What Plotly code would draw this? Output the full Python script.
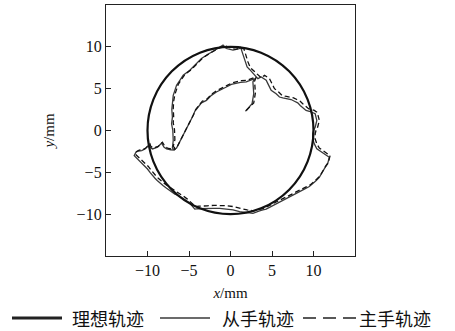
import plotly.graph_objects as go

# Ideal trajectory: circle centred at the origin
ideal_center = (0.0, 0.0)
ideal_radius = 10.0

# Slave-hand trajectory (mm)
slave_x = [1.8, 2.0, 2.4, 2.6, 2.8, 2.7, 2.9,
           2.3, 1.9, 1.2, 0.7, 0.1, -0.5, -1.1, -1.7, -2.3, -2.9, -3.5, -3.9, -4.3, -4.5, -4.8,
           -5.1, -5.4, -5.7, -5.9, -6.1, -6.3, -6.5, -6.8, -7.0,
           -6.9, -6.95, -7.1, -7.0, -7.07, -7.0, -6.9, -6.7, -6.5, -6.1, -5.7, -4.9, -4.1, -3.5, -2.9, -2.2, -1.5,
           -0.9, -0.5, -0.1, 0.3, 0.7, 1.1, 1.2, 1.3, 1.4, 1.5, 1.7, 2.0, 2.3, 2.6, 2.9,
           3.3, 3.7, 4.1, 4.3, 4.5, 4.7, 4.9, 5.5, 5.9, 6.3, 6.8, 7.3, 7.7, 8.1, 8.4, 8.7, 9.1, 9.5, 9.8,
           10.1, 10.2, 10.4, 10.2, 10.0, 9.9, 9.9, 10.1, 10.4, 10.7, 11.1, 11.5, 11.9,
           11.8, 11.7, 11.4, 11.1, 10.7, 10.3, 9.9, 9.5, 8.9, 8.3, 7.7, 7.1, 6.5, 5.9, 5.3, 4.7, 4.3, 3.9, 3.5,
           2.7, 1.9, 1.1, 0.3, -0.5, -1.3, -2.1, -2.9, -3.5, -3.9, -4.3, -4.6, -4.9, -5.3, -5.7, -6.2, -6.7,
           -7.2, -7.7, -8.1, -8.5, -8.8, -9.1, -9.4, -9.7, -10.0, -10.3, -10.6, -10.9, -11.1, -11.3, -11.6,
           -11.4, -11.1, -10.7, -10.3, -10.0, -9.8, -9.7, -9.4, -9.1, -8.8, -8.5, -8.3, -8.0, -7.7, -7.2, -6.7]
slave_y = [2.3, 2.5, 2.9, 3.2, 4.4, 5.8, 6.2,
           6.0, 5.8, 5.75, 5.6, 5.5, 5.2, 4.9, 4.6, 4.2, 3.6, 3.3, 2.8, 2.3, 1.8, 1.2,
           0.6, 0.2, -0.4, -0.8, -1.2, -1.8, -2.1, -2.3, -2.1,
           -1.2, 0.0, 0.8, 1.6, 2.5, 3.4, 4.2, 4.8, 5.4, 6.0, 6.6, 7.2, 8.0, 8.6, 9.0, 9.4, 9.8, 10.2,
           9.8, 9.7, 9.6, 9.7, 9.8, 10.0, 9.7, 9.4, 8.9, 8.4, 7.6, 7.3, 7.0, 6.6, 6.2,
           6.4, 6.1, 6.0, 5.6, 5.2, 4.8, 4.4, 4.0, 3.9, 3.8, 3.7, 3.5, 3.3, 3.0, 2.7, 2.4, 2.3, 2.2, 2.1,
           2.0, 1.2, 0.4, 0.0, -0.4, -1.0, -1.6, -2.2, -2.4, -2.6, -2.9, -3.2, -3.6,
           -4.0, -4.4, -5.0, -5.6, -6.0, -6.4, -6.7, -7.0, -7.3, -7.6, -7.9, -8.2, -8.5, -8.8, -9.1, -9.4, -9.5, -9.6, -9.9,
           -9.8, -9.7, -9.5, -9.4, -9.3, -9.3, -9.3, -9.3, -9.35, -9.4, -9.0, -8.7, -8.4, -8.1, -7.8, -7.6, -7.3,
           -6.9, -6.6, -6.3, -6.0, -5.7, -5.4, -5.0, -4.6, -4.3, -4.0, -3.8, -3.6, -3.3, -3.0, -2.6,
           -2.45, -2.4, -2.2, -1.9, -1.7, -2.0, -2.2, -2.1, -2.0, -1.7, -1.5, -2.0, -2.2, -2.3, -2.35, -2.4]

# Master-hand trajectory (mm)
master_x = [1.9, 2.1, 2.5, 2.8, 3.0, 2.9, 3.1,
            2.4, 2.0, 1.3, 0.8, 0.2, -0.4, -1.0, -1.6, -2.2, -2.8, -3.4, -3.8, -4.2, -4.4, -4.7,
            -5.0, -5.3, -5.6, -5.8, -6.0, -6.2, -6.4, -6.7, -6.9,
            -6.7, -6.75, -6.9, -6.85, -6.9, -6.85, -6.7, -6.5, -6.3, -5.9, -5.5, -4.7, -3.9, -3.3, -2.7, -2.0, -1.3,
            -0.6, -0.2, 0.2, 0.6, 1.0, 1.5, 1.6, 1.7, 1.8, 1.9, 2.1, 2.4, 2.7, 3.0, 3.3,
            3.7, 4.1, 4.5, 4.7, 4.9, 5.1, 5.3, 5.8, 6.2, 6.6, 7.1, 7.6, 8.0, 8.4, 8.7, 9.0, 9.4, 9.8, 10.1,
            10.4, 10.5, 10.7, 10.5, 10.3, 10.2, 10.2, 10.4, 10.7, 11.0, 11.4, 11.7, 12.0,
            11.9, 11.8, 11.5, 11.2, 10.8, 10.4, 10.0, 9.6, 9.0, 8.4, 7.8, 7.2, 6.6, 6.0, 5.4, 4.8, 4.4, 4.0, 3.6,
            2.8, 2.0, 1.2, 0.4, -0.4, -1.2, -2.0, -2.8, -3.4, -3.8, -4.2, -4.5, -4.8, -5.2, -5.6, -6.1, -6.6,
            -7.1, -7.6, -8.0, -8.4, -8.7, -9.0, -9.3, -9.6, -9.9, -10.2, -10.5, -10.8, -11.0, -11.2, -11.5,
            -11.3, -11.0, -10.6, -10.2, -9.9, -9.7, -9.6, -9.3, -9.0, -8.7, -8.4, -8.2, -7.9, -7.6, -7.1, -6.6]
master_y = [2.4, 2.6, 3.0, 3.3, 4.5, 5.9, 6.4,
            6.2, 6.0, 5.95, 5.8, 5.7, 5.4, 5.1, 4.8, 4.4, 3.8, 3.5, 3.0, 2.5, 2.0, 1.4,
            0.8, 0.4, -0.2, -0.6, -1.0, -1.6, -1.9, -2.1, -1.9,
            -1.1, 0.1, 0.9, 1.7, 2.6, 3.5, 4.3, 4.9, 5.5, 6.1, 6.7, 7.3, 8.1, 8.7, 9.1, 9.5, 9.9, 10.1,
            9.9, 9.8, 9.7, 9.8, 9.8, 9.8, 9.5, 9.2, 8.7, 8.2, 7.5, 7.2, 6.9, 6.6, 6.3,
            6.6, 6.3, 6.2, 5.8, 5.4, 5.0, 4.6, 4.2, 4.1, 4.0, 3.9, 3.7, 3.5, 3.2, 2.9, 2.6, 2.5, 2.4, 2.2,
            2.0, 1.2, 0.4, 0.0, -0.4, -1.0, -1.6, -2.1, -2.3, -2.5, -2.7, -3.0, -3.4,
            -3.8, -4.2, -4.8, -5.4, -5.8, -6.2, -6.5, -6.8, -7.1, -7.4, -7.7, -8.0, -8.3, -8.6, -8.9, -9.2, -9.3, -9.4, -9.6,
            -9.5, -9.3, -9.1, -9.0, -8.95, -8.95, -9.0, -9.0, -9.05, -9.1, -8.8, -8.5, -8.2, -7.9, -7.6, -7.3, -7.0,
            -6.6, -6.3, -6.0, -5.7, -5.4, -5.1, -4.7, -4.3, -4.0, -3.7, -3.5, -3.3, -3.0, -2.8, -2.5,
            -2.35, -2.3, -2.1, -1.8, -1.6, -1.9, -2.1, -2.0, -1.9, -1.6, -1.4, -1.9, -2.1, -2.2, -2.25, -2.3]

axis_ticks = [-10, -5, 0, 5, 10]
axis_range = [-15, 15]
legend_names = ["理想轨迹", "从手轨迹", "主手轨迹"]

serif = "Liberation Serif, Times New Roman, Noto Sans CJK SC, serif"
cjk = "Noto Sans CJK SC, Liberation Serif, serif"

W, H = 455, 331
ML, MR, MT, MB = 106, 100, 5, 75
plot_w = W - ML - MR
plot_h = H - MT - MB


def px_to_paper(px, py):
    """Convert page pixel position into paper coordinates."""
    return (px - ML) / plot_w, (H - MB - py) / plot_h


fig = go.Figure()

# Ideal circle drawn in data coordinates
cx, cy = ideal_center
fig.add_shape(type="circle", xref="x", yref="y",
              x0=cx - ideal_radius, x1=cx + ideal_radius,
              y0=cy - ideal_radius, y1=cy + ideal_radius,
              line=dict(color="#111111", width=2.2))

trace_styles = [
    dict(color="#3a3a3a", width=1.3, dash="solid"),
    dict(color="#111111", width=1.3, dash="5px,3px"),
]

fig.add_trace(go.Scatter(x=slave_x, y=slave_y, mode="lines", name=legend_names[1],
                         line=trace_styles[0], showlegend=False))
fig.add_trace(go.Scatter(x=master_x, y=master_y, mode="lines", name=legend_names[2],
                         line=trace_styles[1], showlegend=False))

# Legend row below the x-axis title: key line followed by its label
key_styles = [
    dict(color="#222222", width=3.2, dash="solid"),
    dict(color="#3a3a3a", width=1.4, dash="solid"),
    dict(color="#222222", width=1.6, dash="13px,7px"),
]
legend_keys = [(12, 62, 71), (160, 210, 221), (303, 356, 358)]
legend_row_y = 318
for (x_start, x_end, x_text), name, st in zip(legend_keys, legend_names, key_styles):
    ax0, ay = px_to_paper(x_start, legend_row_y)
    ax1, _ = px_to_paper(x_end, legend_row_y)
    fig.add_shape(type="line", xref="paper", yref="paper",
                  x0=ax0, x1=ax1, y0=ay, y1=ay, line=st)
    tx, _ = px_to_paper(x_text, legend_row_y)
    fig.add_annotation(x=tx, y=ay, xref="paper", yref="paper", text=name,
                       showarrow=False, xanchor="left", yanchor="middle",
                       borderpad=0,
                       font=dict(family=cjk, size=18, color="#111"))

axis_common = dict(
    range=axis_range, tickvals=axis_ticks,
    ticktext=[("\u2212" + str(-v)) if v < 0 else str(v) for v in axis_ticks],
    ticks="inside", ticklen=5, tickwidth=1, tickcolor="#222",
    showline=True, linecolor="#222", linewidth=1.3, mirror=True,
    showgrid=False, zeroline=False,
    tickfont=dict(family=serif, size=16, color="#111"),
)

fig.update_xaxes(**axis_common,
                 title=dict(text="<i>x</i>/mm", font=dict(family=serif, size=15, color="#111"),
                            standoff=9))
fig.update_yaxes(**axis_common,
                 title=dict(text="<i>y</i>/mm", font=dict(family=serif, size=15, color="#111"),
                            standoff=18))

fig.update_layout(
    width=W, height=H,
    margin=dict(l=ML, r=MR, t=MT, b=MB),
    paper_bgcolor="white", plot_bgcolor="white",
    showlegend=False,
)

fig.write_html("out.html")
